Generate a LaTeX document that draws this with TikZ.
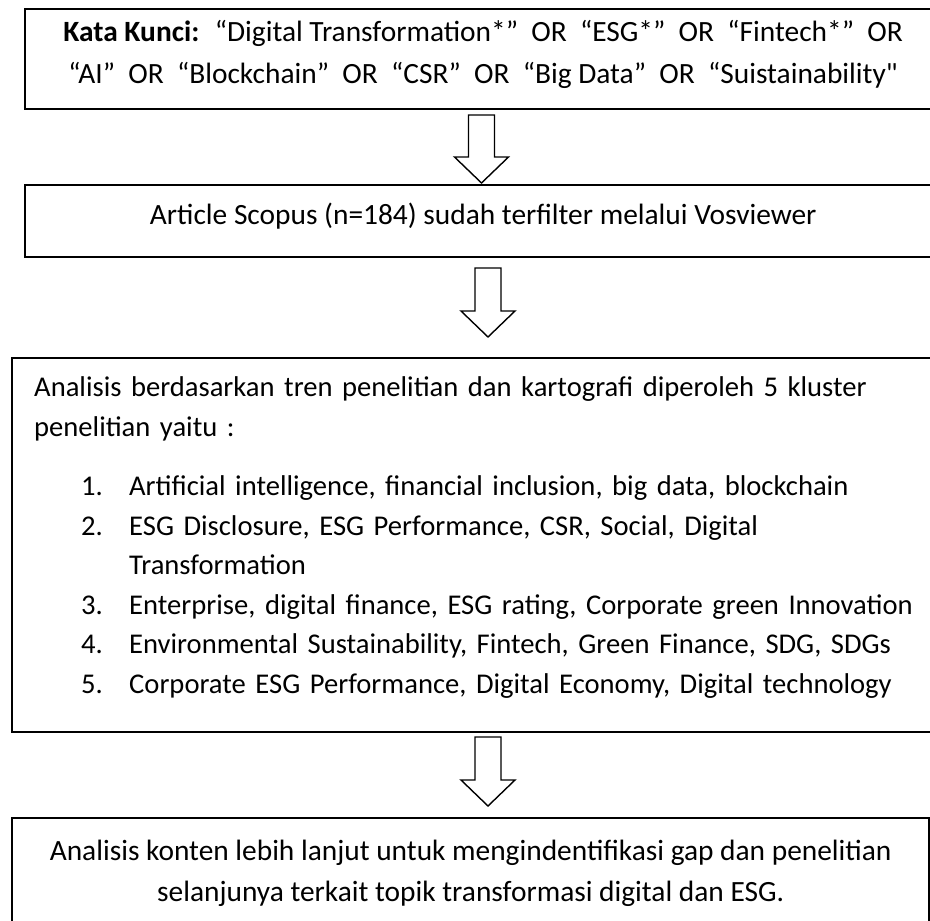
\documentclass[tikz,border=0pt]{standalone}
\usepackage{fontspec}
\setmainfont{Carlito}[Ligatures=TeXOff]
\usetikzlibrary{calc}
\tikzset{
  box/.style={draw, line width=2.4pt, inner sep=0pt, font=\fontsize{29.4}{39}\selectfont},
  hollow/.style={draw, line width=1.4pt, fill=white, line join=miter,
    to path={let \p1=(\tikztostart), \p2=(\tikztotarget) in
      (\x1-13pt,\y1) -- (\x1+13pt,\y1) -- (\x1+13pt,\y2+26pt) -- (\x1+27pt,\y2+26pt)
      -- (\x2,\y2) -- (\x1-27pt,\y2+26pt) -- (\x1-13pt,\y2+26pt) -- cycle}}
}
\newcommand\klitem[2]{\hspace*{47pt}\makebox[48pt][l]{#1}#2}

\begin{document}
\begin{tikzpicture}[x=1pt,y=-1pt]

  \useasboundingbox (0,0) rectangle (930,921);
  \clip (0,0) rectangle (930,921);

  % boxes
  \node[box,anchor=north west,minimum width=916pt,minimum height=100pt,
    align=center,text depth=14pt,font=\fontsize{29.4}{42}\selectfont] (kunci) at (24,8)
    {\textbf{Kata Kunci:}~ “Digital Transformation*”~ OR~ “ESG*”~ OR~ “Fintech*”~ OR\\
     “AI”~ OR~ “Blockchain”~ OR~ “CSR”~ OR~ “Big Data”~ OR~ “Suistainability"};
  \node[box,anchor=north west,minimum width=916pt,minimum height=72pt,
    text height=20pt,text depth=13pt] (scopus) at (24,184)
    {Article Scopus (n=184) sudah terfilter melalui Vosviewer};
  \node[box,anchor=north west,text width=901pt,inner xsep=22pt,minimum height=374pt,
    align=left,text height=5pt,font=\fontsize{28.6}{39.5}\selectfont] (kluster) at (11,357)
    {Analisis berdasarkan tren penelitian dan kartografi diperoleh 5 kluster\\
     penelitian yaitu :\\[20pt]
     \klitem{1.}{Artificial intelligence, financial inclusion, big data, blockchain}\\
     \klitem{2.}{ESG Disclosure, ESG Performance, CSR, Social, Digital}\\
     \klitem{}{Transformation}\\
     \klitem{3.}{Enterprise, digital finance, ESG rating, Corporate green Innovation}\\
     \klitem{4.}{Environmental Sustainability, Fintech, Green Finance, SDG, SDGs}\\
     \klitem{5.}{Corporate ESG Performance, Digital Economy, Digital technology}};
  \node[box,anchor=north west,minimum width=917pt,minimum height=110pt,
    align=center,font=\fontsize{29.4}{41}\selectfont] (gap) at (11,817)
    {Analisis konten lebih lanjut untuk mengindentifikasi gap dan penelitian\\
     selanjunya terkait topik transformasi digital dan ESG.};

  % arrows
  \coordinate (a1s) at (481.5,115);
  \coordinate (a1e) at (481.5,183);
  \coordinate (a2s) at (488,268);
  \coordinate (a2e) at (488,337);
  \coordinate (a3s) at (488,737);
  \coordinate (a3e) at (488,806);
  \draw[hollow] (a1s) to (a1e); % kunci -> scopus
  \draw[hollow] (a2s) to (a2e); % scopus -> kluster
  \draw[hollow] (a3s) to (a3e); % kluster -> gap

\end{tikzpicture}
\end{document}
